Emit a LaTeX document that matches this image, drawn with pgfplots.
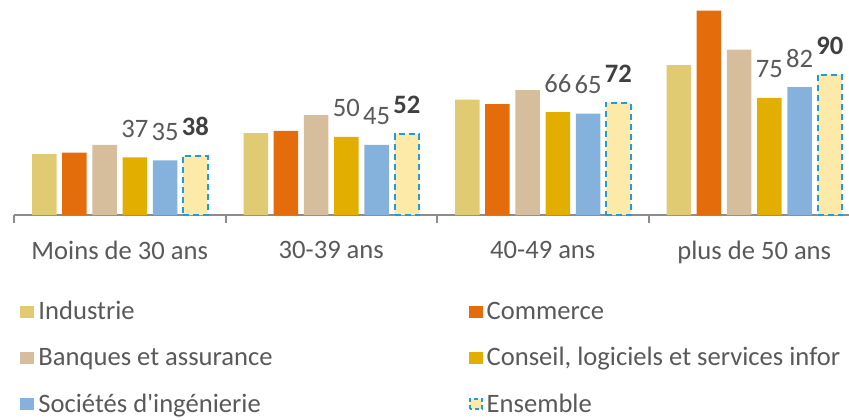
\documentclass[border=0pt]{standalone}
\usepackage{fontspec}
\setmainfont{Carlito}
\usepackage{pgfplots}
\pgfplotsset{compat=1.18}

\definecolor{cInd}{HTML}{E0CB72}
\definecolor{cCom}{HTML}{E46C0A}
\definecolor{cBan}{HTML}{D6BD9B}
\definecolor{cCon}{HTML}{E2AE00}
\definecolor{cSoc}{HTML}{85B2DC}
\definecolor{cEnsF}{HTML}{FDEAA9}
\definecolor{cEnsB}{HTML}{1F9BDE}
\definecolor{axgray}{HTML}{8C8C8C}
\definecolor{txt}{HTML}{595959}
\definecolor{txtb}{HTML}{404040}

\newcommand{\lbl}{\fontsize{13.3}{16}\selectfont}
% legend square filled with the given colour
\pgfplotsset{sq/.style={legend image code/.code={\fill[#1] (0pt,-3pt) rectangle (7pt,3pt);}}}

\begin{document}
\begin{tikzpicture}[font=\lbl]
\begin{axis}[
  scale only axis, width=417.5pt, height=107.5pt,
  xmin=-0.5, xmax=3.448, ymin=0, ymax=137.8,
  axis x line*=bottom, axis y line=none,
  x axis line style={-, draw=axgray, line width=1pt},
  xtick={0,1,2,3},
  xticklabels={Moins de 30 ans, 30-39 ans, 40-49 ans, plus de 50 ans},
  minor xtick={-0.5,0.5,1.5,2.5},
  major tick length=0pt, minor tick length=4pt, tick align=outside,
  minor tick style={draw=axgray, line width=1pt},
  xticklabel style={inner sep=0pt, yshift=-13pt, text=txt, font=\lbl},
  ybar, bar width=12.25pt,
  clip=false,
  /pgf/number format/assume math mode=true,
  every node near coord/.append style={anchor=base, inner sep=0pt, yshift=10pt, text=txt, font=\lbl},
  legend columns=2,
  legend style={at={(rel axis cs:0,0)}, anchor=north west, xshift=0pt, yshift=-39pt,
    draw=none, fill=none, font=\lbl, text=txt, row sep=8.3pt,
    /tikz/every even column/.append style={column sep=96pt},
    nodes={inner sep=2pt}},
  legend cell align=left,
]
\addplot[fill=cInd, draw=none, bar shift=-37.75pt, sq=cInd] coordinates {(0,39) (1,52.5) (2,74) (3,96)};
\addplot[fill=cCom, draw=none, bar shift=-22.65pt, sq=cCom] coordinates {(0,40) (1,54) (2,71) (3,131)};
\addplot[fill=cBan, draw=none, bar shift=-7.55pt, sq=cBan] coordinates {(0,45) (1,64) (2,80) (3,106)};
\addplot[fill=cCon, draw=none, bar shift=7.55pt, sq=cCon, nodes near coords] coordinates {(0,37) (1,50) (2,66) (3,75)};
\addplot[fill=cSoc, draw=none, bar shift=22.65pt, sq=cSoc, nodes near coords] coordinates {(0,35) (1,45) (2,65) (3,82)};
\addplot[fill=cEnsF, draw=cEnsB, line width=1pt, dash pattern=on 3pt off 2pt, bar shift=37.75pt,
  legend image code/.code={\draw[fill=cEnsF, draw=cEnsB, line width=1pt, dash pattern=on 2pt off 1.5pt] (0.5pt,-2.5pt) rectangle (6.5pt,2.5pt);},
  nodes near coords, every node near coord/.append style={font=\lbl\bfseries, text=txtb}]
  coordinates {(0,38) (1,52) (2,72) (3,90)};
\legend{Industrie, Commerce, Banques et assurance, {Conseil, logiciels et services infor}, Sociétés d\textquotesingle ingénierie, Ensemble}
\end{axis}
\pgfresetboundingbox
\path[use as bounding box] (-7pt,-102pt) rectangle (417.5pt,107.5pt);
\end{tikzpicture}
\end{document}
